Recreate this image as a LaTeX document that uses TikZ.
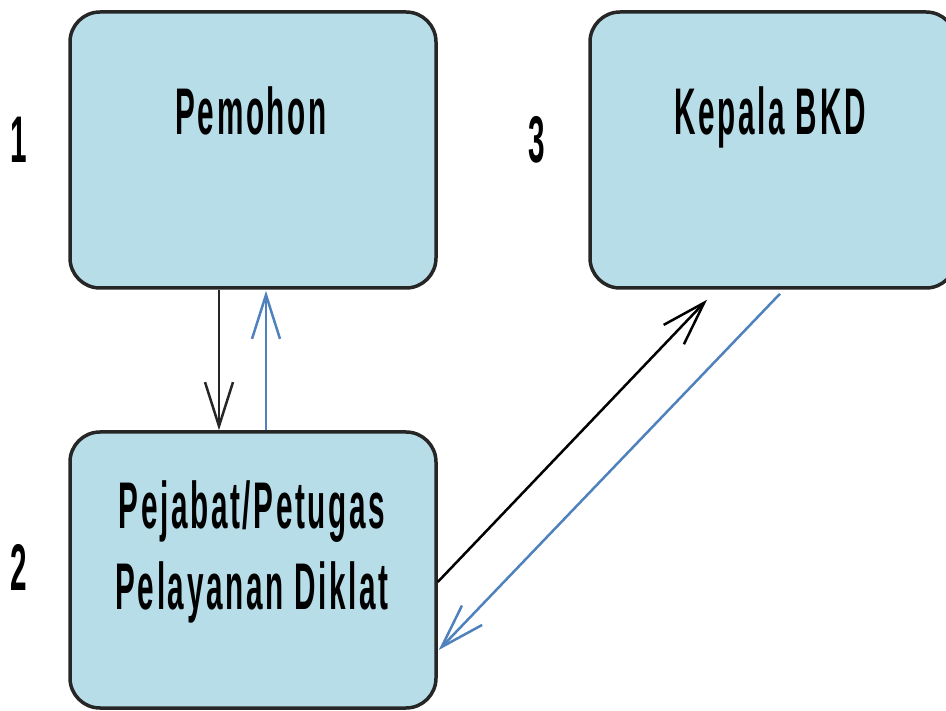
\documentclass[tikz,border=0pt]{standalone}
\usepackage{fontspec}
\newfontfamily\etroite[FakeStretch=0.45,LetterSpace=4]{Liberation Sans Bold}
\usepackage{tikz}
\usetikzlibrary{arrows.meta}
\usepackage{xcolor}
\definecolor{bleuboite}{RGB}{183,221,232}
\definecolor{bleufleche}{RGB}{79,129,189}

\begin{document}
\begin{tikzpicture}[x=1pt,y=-1pt,
    boite/.style={draw=black!85, line width=3.5pt, fill=bleuboite, rounded corners=30pt,
        minimum width=366pt, minimum height=276pt, inner sep=0pt},
    texte/.style={font=\fontsize{66}{81}\selectfont\etroite, inner sep=0pt, anchor=base},
    fleche/.style={line width=2.5pt, -{Straight Barb[length=44pt,width=28pt]}}]
\useasboundingbox (0,0) rectangle (946,711);
% boites
\node[boite] (pemohon) at (253,150) {};
\node[boite] (kepala) at (773,150) {};
\node[boite] (pejabat) at (253,570) {};
% textes
\node[texte] (tpemohon) at (251,135) {Pemohon};
\node[texte] (tkepala) at (770,135) {Kepala BKD};
\node[texte, align=center] (tpejabat) at (252,609) {Pejabat/Petugas\\Pelayanan Diklat};
\node[texte] (un) at (19,163) {1};
\node[texte] (trois) at (537,163) {3};
\node[texte] (deux) at (19,590) {2};
% fleches
\draw[fleche, black!85] ([xshift=-34pt]pemohon.south) -- ([xshift=-34pt]pejabat.north);
\draw[fleche, bleufleche] ([xshift=13pt]pejabat.north) -- ([xshift=13pt,yshift=-1pt]pemohon.south);
\draw[fleche, black] ([yshift=-12pt]pejabat.east) -- ([xshift=-66pt,yshift=-10pt]kepala.south);
\draw[fleche, bleufleche] ([xshift=7pt,yshift=-4pt]kepala.south) -- ([xshift=1pt,yshift=-80pt]pejabat.east);
\end{tikzpicture}
\end{document}
